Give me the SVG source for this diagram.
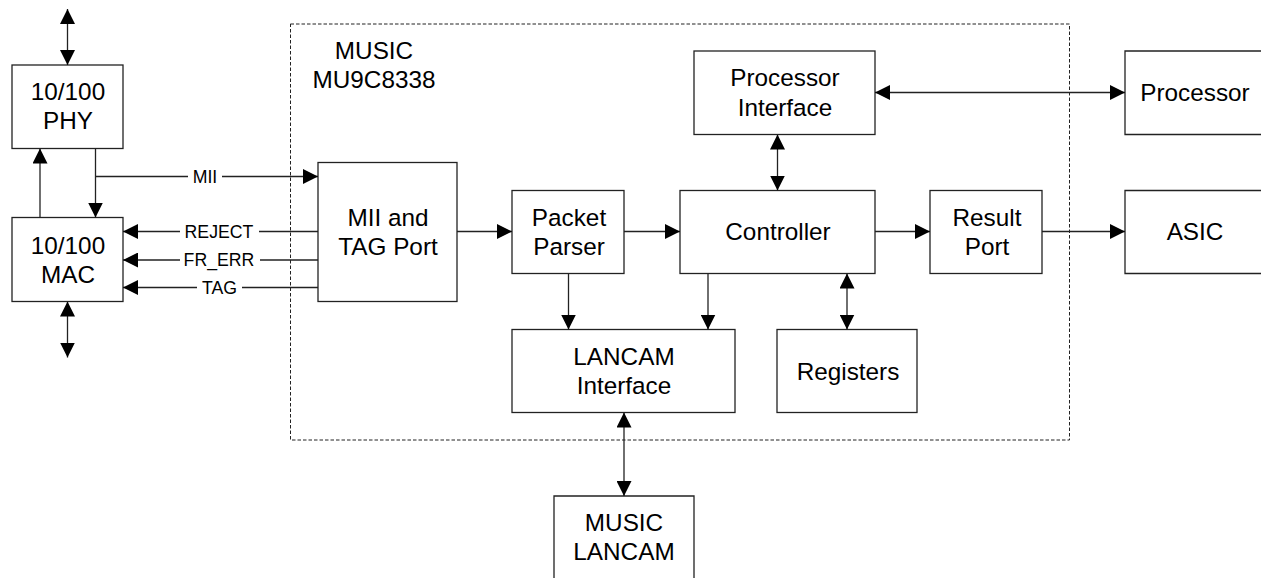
<svg xmlns="http://www.w3.org/2000/svg" width="1261" height="578" viewBox="0 0 1261 578">
<style>
text{font-family:"Liberation Sans",Arial,sans-serif;fill:#000;text-anchor:middle}
.t{font-size:24.3px}
.l{font-size:17.7px}
.b{fill:#fff;stroke:#222;stroke-width:1.3}
.o{fill:none;stroke:#222;stroke-width:1.3}
.c line{fill:none;stroke:#222;stroke-width:1.3}
.a{marker-end:url(#h)}
.d{marker-start:url(#hs);marker-end:url(#h)}
</style>
<defs>
<marker id="h" markerUnits="userSpaceOnUse" markerWidth="15" markerHeight="15" refX="15" refY="7.500" orient="auto"><path d="M0 0L15 7.500L0 15Z" fill="#000"/></marker>
<marker id="hs" markerUnits="userSpaceOnUse" markerWidth="15" markerHeight="15" refX="0" refY="7.500" orient="auto"><path d="M15 0L0 7.500L15 15Z" fill="#000"/></marker>
</defs>
<rect id="music-boundary" x="290.500" y="24" width="779" height="416" fill="none" stroke="#222" stroke-width="1" stroke-dasharray="3.500 2"/>
<text class="t"><tspan x="374" y="59">MUSIC</tspan><tspan x="374" y="88">MU9C8338</tspan></text>
<g id="phy"><rect class="b" x="12" y="65" width="111" height="83.500"/><text class="t"><tspan x="68" y="100">10/100</tspan><tspan x="68" y="129">PHY</tspan></text></g>
<g id="mac"><rect class="b" x="12" y="217.500" width="111" height="84"/><text class="t"><tspan x="68" y="254">10/100</tspan><tspan x="68" y="283">MAC</tspan></text></g>
<g id="mii"><rect class="b" x="318" y="162.500" width="139" height="139"/><text class="t"><tspan x="388" y="226">MII and</tspan><tspan x="388" y="255">TAG Port</tspan></text></g>
<g id="parser"><rect class="b" x="512" y="190.500" width="112" height="83"/><text class="t"><tspan x="569" y="226">Packet</tspan><tspan x="569" y="255">Parser</tspan></text></g>
<g id="controller"><rect class="b" x="680" y="190.500" width="195" height="83"/><text class="t" x="778" y="240">Controller</text></g>
<g id="result"><rect class="b" x="930" y="190.500" width="112" height="83"/><text class="t"><tspan x="987" y="226">Result</tspan><tspan x="987" y="255">Port</tspan></text></g>
<g id="proc-if"><rect class="b" x="694" y="51" width="181" height="83.500"/><text class="t"><tspan x="785" y="86">Processor</tspan><tspan x="785" y="116">Interface</tspan></text></g>
<g id="registers"><rect class="b" x="777" y="329.500" width="140" height="83"/><text class="t" x="848" y="380">Registers</text></g>
<g id="lancam-if"><rect class="b" x="512" y="329.500" width="223" height="83"/><text class="t"><tspan x="624" y="365">LANCAM</tspan><tspan x="624" y="394">Interface</tspan></text></g>
<g id="processor"><path class="o" d="M1261 51H1125V134.500H1261"/><text class="t" x="1195" y="101">Processor</text></g>
<g id="asic"><path class="o" d="M1261 190.500H1125V273.500H1261"/><text class="t" x="1195" y="240">ASIC</text></g>
<g id="lancam"><path class="o" d="M554 578V496H694V578"/><text class="t"><tspan x="624" y="531">MUSIC</tspan><tspan x="624" y="560">LANCAM</tspan></text></g>
<g id="connectors" class="c">
<line class="d" x1="67.500" y1="9" x2="67.500" y2="65"/>
<line class="d" x1="67.500" y1="301.500" x2="67.500" y2="357.500"/>
<line class="a" x1="40" y1="217.500" x2="40" y2="148.500"/>
<line class="a" x1="95.500" y1="148.500" x2="95.500" y2="217.500"/>
<line class="a" x1="95.500" y1="176.500" x2="318" y2="176.500"/>
<line class="a" x1="318" y1="231.500" x2="123" y2="231.500"/>
<line class="a" x1="318" y1="260" x2="123" y2="260"/>
<line class="a" x1="318" y1="287.500" x2="123" y2="287.500"/>
<line class="a" x1="457" y1="231.500" x2="512" y2="231.500"/>
<line class="a" x1="624" y1="231.500" x2="680" y2="231.500"/>
<line class="a" x1="875" y1="231.500" x2="930" y2="231.500"/>
<line class="a" x1="1042" y1="231.500" x2="1125" y2="231.500"/>
<line class="d" x1="875" y1="92.500" x2="1125" y2="92.500"/>
<line class="d" x1="777.500" y1="134.500" x2="777.500" y2="190.500"/>
<line class="d" x1="847" y1="273.500" x2="847" y2="329.500"/>
<line class="a" x1="568.500" y1="273.500" x2="568.500" y2="329.500"/>
<line class="a" x1="708" y1="273.500" x2="708" y2="329.500"/>
<line class="d" x1="624" y1="412.500" x2="624" y2="496"/>
</g>
<g id="connector-labels">
<rect x="188" y="166" width="34" height="21" fill="#fff"/><text class="l" x="205" y="183">MII</text>
<rect x="180" y="221" width="79" height="21" fill="#fff"/><text class="l" x="219" y="238">REJECT</text>
<rect x="180" y="249" width="80" height="21" fill="#fff"/><text class="l" x="219" y="266">FR_ERR</text>
<rect x="197" y="277" width="45" height="21" fill="#fff"/><text class="l" x="219.500" y="294">TAG</text>
</g>
</svg>
